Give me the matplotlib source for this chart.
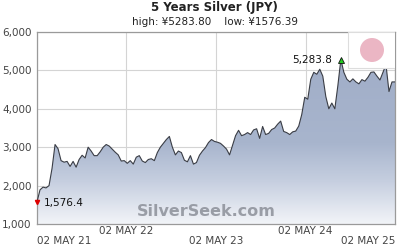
import matplotlib
matplotlib.use("Agg")
import matplotlib.pyplot as plt
import numpy as np
import pandas as pd
from matplotlib.colors import LinearSegmentedColormap
from matplotlib.patches import Ellipse, Rectangle

title = "5 Years Silver (JPY)"
subtitle = "high: ¥5283.80    low: ¥1576.39"
start_date = "2021-05-02"
end_date = "2025-05-02"
tick_dates = ["2021-05-02", "2022-05-02", "2023-05-02", "2024-05-02", "2025-05-02"]
tick_labels = ["02 MAY 21", "02 MAY 22", "02 MAY 23", "02 MAY 24", "02 MAY 25"]
y_ticks = [1000, 2000, 3000, 4000, 5000, 6000]
prices = [
    1576.4, 1890, 1960, 1940, 2000, 2450, 3070, 2960, 2650, 2610,
    2630, 2500, 2630, 2480, 2680, 2790, 2720, 3000, 2900, 2780,
    2780, 2880, 3000, 3070, 3030, 2950, 2870, 2800, 2640, 2650,
    2580, 2650, 2560, 2740, 2780, 2640, 2600, 2680, 2700, 2650,
    2860, 3000, 3100, 3200, 3280, 3000, 2800, 2900, 2860, 2660,
    2620, 2780, 2560, 2600, 2790, 2900, 2990, 3120, 3200, 3150,
    3130, 3100, 3030, 2950, 2800, 3050, 3300, 3440, 3300, 3330,
    3380, 3330, 3450, 3480, 3230, 3540, 3330, 3360, 3460, 3500,
    3600, 3680, 3410, 3380, 3330, 3400, 3420, 3550, 3850, 4300,
    4250, 4770, 4950, 4900, 5030, 4850, 4320, 4000, 4150, 4000,
    4600, 5283.8, 4950, 4770, 4700, 4780, 4700, 4650, 4760, 4720,
    4820, 4950, 4960, 4850, 4750, 4950, 5150, 4450, 4700, 4700,
]

dates = pd.date_range(start_date, end_date, periods=len(prices))
vals = np.array(prices)

PT = 72 / 100  # points per pixel at dpi 100

fig = plt.figure(figsize=(4, 2.5), dpi=100)
ax = fig.add_axes([37/400, 1-224/250, 358/400, 192/250])
ax.set_xlim(pd.Timestamp(start_date), pd.Timestamp(end_date))
ax.set_ylim(1000, 6000)

# gradient fill clipped to the area under the line
cmap = LinearSegmentedColormap.from_list("g", [(0, "#f2f4f8"), (0.22, "#c6cfe0"), (0.42, "#a8b5cd"), (1, "#9eabc6")])
grad = np.linspace(0, 1, 256).reshape(-1, 1)
xl = ax.get_xlim()
im = ax.imshow(grad, aspect="auto", cmap=cmap, origin="lower",
               extent=[xl[0], xl[1], 1000, 6000], zorder=1)
poly = ax.fill_between(dates, vals, 1000, color="none", lw=0)
path = poly.get_paths()[0]
im.set_clip_path(path, transform=ax.transData)
ax.set_xlim(xl)
ax.set_ylim(1000, 6000)

ax.plot(dates, vals, color="#3a3d45", lw=0.8, zorder=3)

# grid
ax.set_yticks(y_ticks)
ax.set_yticklabels([f"{v:,}" for v in y_ticks])
tds = pd.to_datetime(tick_dates)
ax.set_xticks(tds)
ax.set_xticklabels([])
ax.grid(True, color="#d4d4d4", lw=0.8, zorder=0)
ax.set_axisbelow(True)
for s in ax.spines.values():
    s.set_color("#9a9a9a")
    s.set_linewidth(0.9)
ax.tick_params(length=0, labelsize=7.5, labelcolor="#444444", pad=4)

# x tick labels in two rows
for i, (d, lab) in enumerate(zip(tds, tick_labels)):
    if i == 0:
        ha = "left"
    elif i == len(tds) - 1:
        ha = "right"
    else:
        ha = "center"
    yoff = -17 * PT if i % 2 == 0 else -7 * PT
    ax.annotate(lab, xy=(d, 1000), xycoords="data", xytext=(0, yoff),
                textcoords="offset points", ha=ha, va="center",
                fontsize=7.5, color="#444444")

# watermark
ax.text(0.472, 0.065, "SilverSeek.com", transform=ax.transAxes, ha="center", va="center",
        fontsize=11.5, fontweight="bold", color="#868a93", alpha=0.8, zorder=4)

# low / high markers
imin = int(np.argmin(vals))
imax = int(np.argmax(vals))
ax.plot(dates[imin], vals[imin], marker="v", color="#dd0000", ms=3, zorder=5, clip_on=False)
ax.annotate(f"{vals[imin]:,.1f}", xy=(dates[imin], vals[imin]), xytext=(5, -1),
            textcoords="offset points", ha="left", va="center", fontsize=7.5, color="#111111", zorder=5)
ax.plot(dates[imax], vals[imax], marker="^", mfc="#22cc22", mec="#111111", mew=0.6, ms=4, zorder=5)
ax.annotate(f"{vals[imax]:,.1f}", xy=(dates[imax], vals[imax]), xytext=(-6, 0),
            textcoords="offset points", ha="right", va="center", fontsize=7.5, color="#111111", zorder=5)

# legend box with pink circle
ax.add_patch(Rectangle((0.868, 0.815), 0.132, 0.185, transform=ax.transAxes,
                       facecolor="white", edgecolor="#dddddd", lw=0.8, zorder=4))
fig.patches.append(Ellipse((372/400, 1-50/250), 24/400, 24/250, transform=fig.transFigure,
                           facecolor="#ebb6c4", edgecolor="none", zorder=6))

fig.text(214/400, 1-8/250, title, ha="center", va="center", fontsize=8.5, fontweight="bold", color="#222222")
fig.text(215/400, 1-22/250, subtitle, ha="center", va="center", fontsize=7.5, color="#222222")

fig.savefig("out.png", dpi=100)
